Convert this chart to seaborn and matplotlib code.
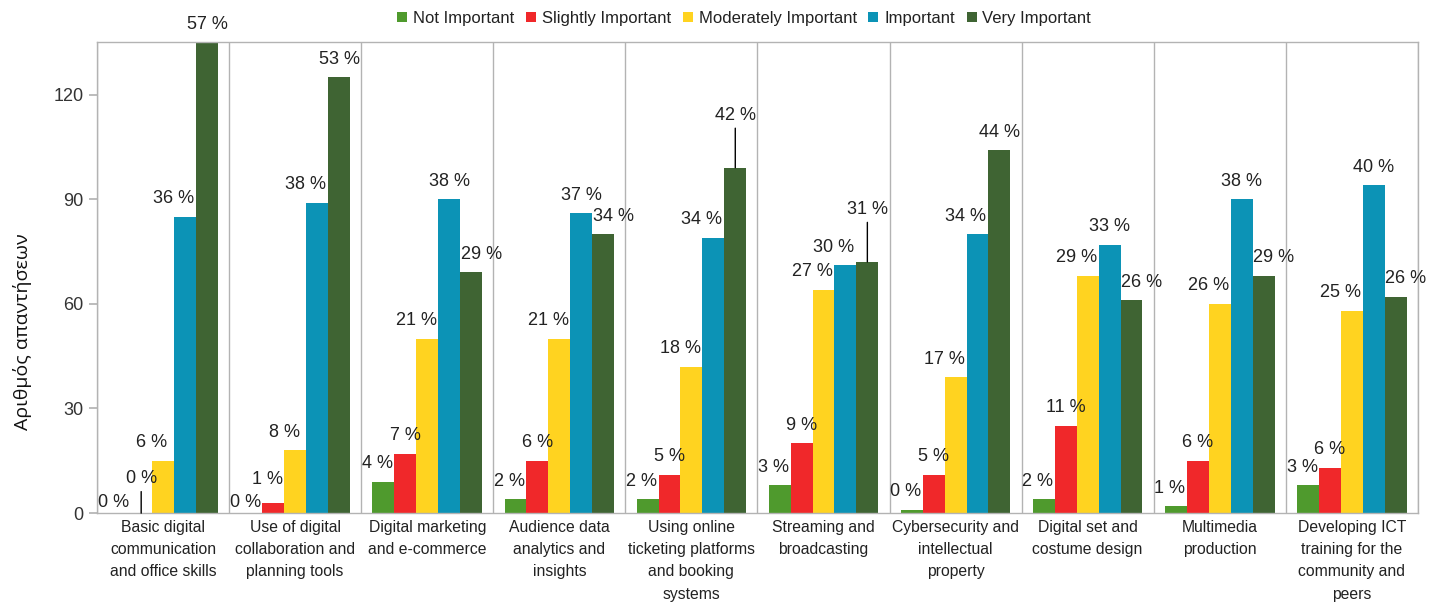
import numpy as np
import pandas as pd
import matplotlib
matplotlib.use("Agg")
import matplotlib.pyplot as plt
import seaborn as sns

categories = [
    "Basic digital\ncommunication\nand office skills",
    "Use of digital\ncollaboration and\nplanning tools",
    "Digital marketing\nand e-commerce",
    "Audience data\nanalytics and\ninsights",
    "Using online\nticketing platforms\nand booking\nsystems",
    "Streaming and\nbroadcasting",
    "Cybersecurity and\nintellectual\nproperty",
    "Digital set and\ncostume design",
    "Multimedia\nproduction",
    "Developing ICT\ntraining for the\ncommunity and\npeers",
]
levels = ["Not Important", "Slightly Important", "Moderately Important",
          "Important", "Very Important"]

not_important = [0, 0, 9, 4, 4, 8, 1, 4, 2, 8]
slightly_important = [0, 3, 17, 15, 11, 20, 11, 25, 15, 13]
moderately_important = [15, 18, 50, 50, 42, 64, 39, 68, 60, 58]
important = [85, 89, 90, 86, 79, 71, 80, 77, 90, 94]
very_important = [135, 125, 69, 80, 99, 72, 104, 61, 68, 62]

yticks = [0, 30, 60, 90, 120]
ylabel = "Αριθμός απαντήσεων"

colors = ["#4f9a2d", "#f0282a", "#ffd320", "#0c93b6", "#3f6433"]

series = [not_important, slightly_important, moderately_important,
          important, very_important]
rows = []
for lev, vals in zip(levels, series):
    for cat, v in zip(categories, vals):
        rows.append({"category": cat, "level": lev, "count": v})
df = pd.DataFrame(rows)
totals = np.sum(np.array(series), axis=0)

sns.set_theme(style="white")
narrow = ["Liberation Sans Narrow", "Liberation Sans", "DejaVu Sans"]
plt.rcParams["font.family"] = narrow

fig = plt.figure(figsize=(14.38, 6.03), dpi=100)
ax = fig.add_axes([0.0675, 0.149, 0.9185, 0.781])

sns.barplot(data=df, x="category", y="count", hue="level", order=categories,
            hue_order=levels, palette=colors, saturation=1, width=0.83,
            dodge=True, ax=ax, legend=True, linewidth=0)

ax.set_ylim(0, 135)
ax.set_xlim(-0.5, len(categories) - 0.5)
ax.set_yticks(yticks)
ax.set_yticklabels([str(t) for t in yticks], fontsize=13, color="#333333")
ax.set_xticks(range(len(categories)))
ax.set_xticklabels(categories, fontsize=11.3, color="#222222", linespacing=1.6)
ax.tick_params(axis="x", which="major", length=0, pad=5)
ax.set_xticks(np.arange(-0.5, len(categories), 1.0), minor=True)
ax.tick_params(axis="x", which="minor", length=6, color="#b3b3b3", direction="out")
ax.tick_params(axis="y", length=6, color="#b3b3b3", direction="out", left=True)
ax.grid(False)
ax.grid(which="minor", axis="x", color="#b3b3b3", linewidth=1)
for s in ax.spines.values():
    s.set_color("#b3b3b3")
    s.set_linewidth(1)
ax.set_xlabel("")
ax.set_ylabel(ylabel, fontsize=14, family=["Open Sans", "DejaVu Sans"],
              color="#111111")
ax.yaxis.set_label_coords(-0.049, 0.386)

# percentage labels (placement mimics the spreadsheet's collision avoidance)
base_dx = [-4.3, 0.0, -8.0, 0.0, 0.0]
extra_lift = {(1, 0): 12, (1, 1): 4, (4, 4): 25, (4, 5): 25}
leader = {(1, 0), (4, 4), (4, 5)}
for si, cont in enumerate(ax.containers):
    for ci, bar in enumerate(cont):
        v = series[si][ci]
        pct = int(round(100 * v / totals[ci]))
        x = bar.get_x() + bar.get_width() / 2
        dx = base_dx[si]
        if si == 3 and very_important[ci] > important[ci]:
            dx = -8.6
        if si == 4 and very_important[ci] < important[ci]:
            dx = 7.2
        if si == 1 and ci == 1:
            dx = -4.3
        dy = 13 + extra_lift.get((si, ci), 0)
        if v == 0 and (si, ci) not in leader:
            dy = 8
        kw = {}
        if (si, ci) in leader:
            kw["arrowprops"] = dict(arrowstyle="-", color="black", lw=1,
                                    shrinkA=1, shrinkB=0)
        ax.annotate(f"{pct} %", xy=(x, v), xytext=(dx, dy),
                    textcoords="offset points", ha="center", va="center",
                    fontsize=13, color="#222222", annotation_clip=False, **kw)

leg = ax.legend(loc="center", bbox_to_anchor=(0.49, 1.0 + 24 / 471),
                ncol=5, frameon=False, fontsize=12, handlelength=0.6,
                handleheight=0.6, handletextpad=0.35, columnspacing=0.7,
                borderaxespad=0)
for t in leg.get_texts():
    t.set_color("#222222")

fig.savefig("out.png", dpi=100)
